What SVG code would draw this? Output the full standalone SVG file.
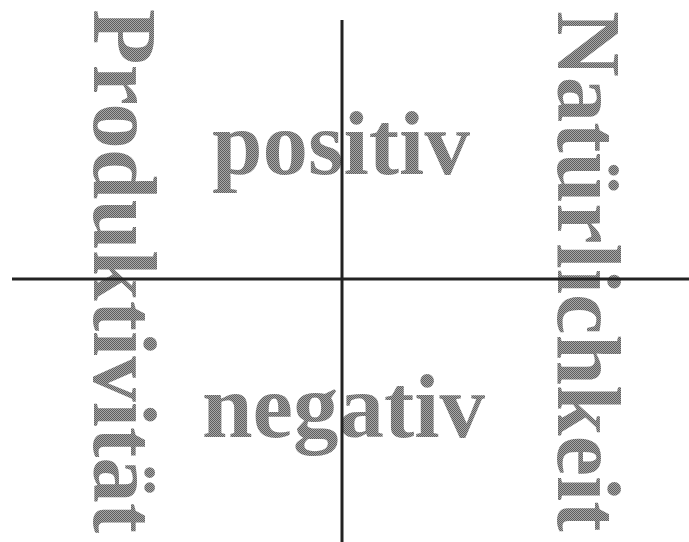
<svg xmlns="http://www.w3.org/2000/svg" width="689" height="542" viewBox="0 0 689 542">
  <defs>
    <pattern id="dither" patternUnits="userSpaceOnUse" width="2" height="2">
      <rect width="2" height="2" fill="#a8a8a8"/>
      <rect width="1" height="1" fill="#5e5e5e"/>
      <rect x="1" y="1" width="1" height="1" fill="#5e5e5e"/>
    </pattern>
  </defs>
  <style>
    .lbl { font-family: "Liberation Serif", "Times New Roman", serif; font-weight: bold; font-size: 91px; fill: url(#dither); }
    .axis { stroke: #222; stroke-width: 3; fill: none; }
  </style>
  <rect width="689" height="542" fill="#ffffff"/>
  <g id="positiv">
    <text class="lbl" x="212" y="174">positiv</text>
  </g>
  <g id="negativ">
    <text class="lbl" x="202" y="437">negativ</text>
  </g>
  <g id="produktivitaet">
    <text class="lbl" transform="translate(94,9) rotate(90)" x="0" y="0">Produktivität</text>
  </g>
  <g id="natuerlichkeit">
    <text class="lbl" transform="translate(558,11) rotate(90)" x="0" y="0">Natürlichkeit</text>
  </g>
  <g id="connectors">
    <line class="axis" x1="342" y1="20" x2="342" y2="542"/>
    <line class="axis" x1="12" y1="279" x2="689" y2="279"/>
  </g>
</svg>
